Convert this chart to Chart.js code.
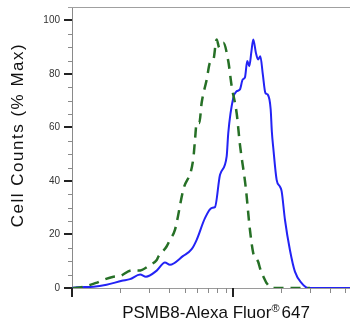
<!DOCTYPE html>
<html>
<head>
<meta charset="utf-8">
<script src="https://cdn.jsdelivr.net/npm/chart.js@4"></script>
<style>
  html, body { margin: 0; padding: 0; background: #fff; overflow: hidden; }
  #wrap { position: relative; width: 350px; height: 327px; }
</style>
</head>
<body>
<div id="wrap"><canvas id="histo"></canvas></div>
<script>
// ====== DATA ======
// stained sample, solid blue
const stainedX = [100, 107, 136, 164, 204, 229, 265, 288, 336, 378, 406, 491, 554, 595, 670, 738, 773, 831, 914, 935,
                  1004, 1054, 1105, 1149, 1187, 1227, 1263, 1303, 1337, 1388, 1432, 1479, 1533, 1590, 1644, 1715, 1744,
                  1780, 1868, 1958, 2007, 2104, 2259, 2427, 2671, 2936, 5400];
const stainedY = [0, 0.3, 0.5, 1.2, 2.7, 3.3, 5.0, 4.2, 6.5, 9.5, 8.7, 12.0, 14.5, 18.0, 26.1, 29.9, 30.2, 42.3, 49.2, 57.9,
                  71, 73.5, 74.2, 77.9, 78.7, 84.8, 82.9, 88.5, 92.9, 87.9, 85.4, 86.6, 79.8, 72.9, 72.3, 66.8, 58.5,
                  52.4, 40.4, 37.9, 36.1, 25.5, 14.2, 6.1, 1.8, 0, 0];

// isotype control, dashed green
const controlX = [101, 112, 141, 156, 181, 199, 235, 260, 305, 336, 344, 387, 406, 436, 491, 567, 581, 595, 618, 639,
                  687, 720, 755, 792, 822, 871, 935, 982, 1054, 1105, 1201, 1275, 1337, 1370, 1436, 1472, 1581, 1620,
                  1740, 3008];
const controlY = [0, 0.2, 1.9, 3.0, 4.2, 4.5, 6.6, 6.5, 8.6, 10.5, 11.7, 15.5, 18.0, 21.7, 36.7, 48.3, 55.4, 61.7, 61.7, 69.2,
                  77.9, 84.2, 85.2, 92.9, 89.8, 91.6, 84.8, 75.4, 65.4, 53.6, 37.5, 21.7, 13.0, 11.7, 9.7, 7.4, 3.0, 1.8,
                  0, 0];

const yMajorTicks = [0, 20, 40, 60, 80, 100];
const yMinorTicks = [5, 10, 15, 25, 30, 35, 45, 50, 55, 65, 70, 75, 85, 90, 95];
const xMajorTicks = [100, 1000];
const xMinorTicks = [200, 300, 400, 500, 600, 700, 800, 900, 2000, 3000, 4000, 5000];

const xTitleMain = 'PSMB8-Alexa Fluor';
const xTitleMark = '\u00AE';
const xTitleEnd = '647';
const yTitle = 'Cell Counts (% Max)';

const FONT = "'Liberation Sans', Arial, sans-serif";

function toPoints(xs, ys) {
    return xs.map((x, i) => ({ x: x, y: ys[i] }));
}

// tick marks, top frame line and axis titles
const frameAndTicks = {
    id: 'frameAndTicks',
    afterDraw(chart) {
        const ctx = chart.ctx;
        const area = chart.chartArea;
        const xs = chart.scales.x;
        const ys = chart.scales.y;
        ctx.save();

        // top frame line
        ctx.strokeStyle = '#a0a0a0';
        ctx.lineWidth = 1;
        ctx.beginPath();
        ctx.moveTo(area.left - 4, area.top + 0.5);
        ctx.lineTo(area.right, area.top + 0.5);
        ctx.stroke();

        // y minor
        ctx.strokeStyle = '#8a8a8a';
        ctx.lineWidth = 1;
        yMinorTicks.forEach(v => {
            const py = Math.round(ys.getPixelForValue(v)) + 0.5;
            ctx.beginPath();
            ctx.moveTo(area.left - 4, py);
            ctx.lineTo(area.left, py);
            ctx.stroke();
        });
        // y major
        ctx.strokeStyle = '#222';
        ctx.lineWidth = 2;
        yMajorTicks.forEach(v => {
            const py = Math.round(ys.getPixelForValue(v));
            ctx.beginPath();
            ctx.moveTo(area.left - 8, py);
            ctx.lineTo(area.left, py);
            ctx.stroke();
        });
        // x minor
        ctx.strokeStyle = '#8a8a8a';
        ctx.lineWidth = 1;
        xMinorTicks.forEach(v => {
            const px = Math.round(xs.getPixelForValue(v)) + 0.5;
            ctx.beginPath();
            ctx.moveTo(px, area.bottom);
            ctx.lineTo(px, area.bottom + 5);
            ctx.stroke();
        });
        // x major
        ctx.strokeStyle = '#222';
        ctx.lineWidth = 2;
        xMajorTicks.forEach(v => {
            const px = Math.round(xs.getPixelForValue(v));
            ctx.beginPath();
            ctx.moveTo(px, area.bottom);
            ctx.lineTo(px, area.bottom + 9);
            ctx.stroke();
        });

        // x title, with a small raised (R) mark
        ctx.fillStyle = '#111';
        ctx.textBaseline = 'alphabetic';
        ctx.textAlign = 'left';
        ctx.font = '17px ' + FONT;
        const w1 = ctx.measureText(xTitleMain).width;
        const w3 = ctx.measureText(xTitleEnd).width;
        ctx.font = '11px ' + FONT;
        const w2 = ctx.measureText(xTitleMark).width;
        const total = w1 + w2 + 2 + w3;
        let tx = 216 - total / 2;
        ctx.font = '17px ' + FONT;
        ctx.fillText(xTitleMain, tx, 318);
        tx += w1;
        ctx.font = '11px ' + FONT;
        ctx.fillText(xTitleMark, tx, 312);
        tx += w2 + 2;
        ctx.font = '17px ' + FONT;
        ctx.fillText(xTitleEnd, tx, 318);

        // y title
        ctx.translate(23, 135);
        ctx.rotate(-Math.PI / 2);
        ctx.textAlign = 'center';
        ctx.font = '17px ' + FONT;
        if ('letterSpacing' in ctx) ctx.letterSpacing = '1.5px';
        ctx.fillText(yTitle, 0, 0);
        ctx.restore();
    }
};

const chart = new Chart(document.getElementById('histo'), {
    type: 'line',
    data: {
        datasets: [
            {
                label: 'Control',
                data: toPoints(controlX, controlY),
                borderColor: 'rgb(38, 112, 38)',
                borderWidth: 2.5,
                borderDash: [10, 7],
                pointRadius: 0,
                fill: false,
                cubicInterpolationMode: 'monotone'
            },
            {
                label: 'PSMB8',
                data: toPoints(stainedX, stainedY),
                borderColor: 'rgb(35, 35, 245)',
                borderWidth: 2,
                pointRadius: 0,
                fill: false,
                cubicInterpolationMode: 'monotone'
            }
        ]
    },
    options: {
        responsive: true,
        maintainAspectRatio: false,
        animation: false,
        layout: { padding: { top: 7, right: 0, left: 0, bottom: 0 } },
        plugins: {
            legend: { display: false },
            tooltip: { enabled: false }
        },
        scales: {
            x: {
                type: 'logarithmic',
                min: 100,
                max: 5335,
                grid: { display: false, drawTicks: false },
                border: { display: true, color: '#9a9a9a', width: 1 },
                ticks: { display: false },
                afterFit(scale) { scale.height = 39; }
            },
            y: {
                min: 0,
                max: 105,
                // grid hidden; tickLength only pushes the labels off the axis
                grid: { display: false, drawTicks: true, tickLength: 12 },
                border: { display: true, color: '#8a8a8a', width: 1 },
                ticks: {
                    padding: 0,
                    color: '#333',
                    font: { family: FONT, size: 10 }
                },
                afterBuildTicks(scale) {
                    scale.ticks = yMajorTicks.map(v => ({ value: v }));
                },
                afterFit(scale) { scale.width = 72; }
            }
        }
    },
    plugins: [frameAndTicks]
});
</script>
</body>
</html>
